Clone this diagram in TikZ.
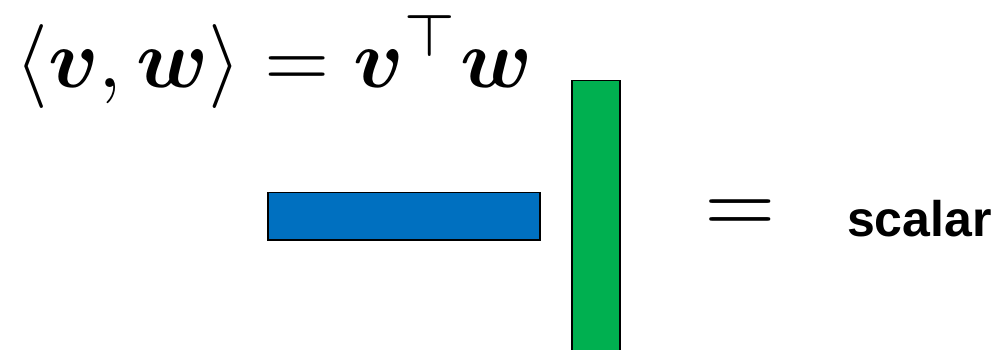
\documentclass[tikz,border=0pt]{standalone}
\usepackage{amsmath,bm}
\usepackage{fontspec}
\newfontfamily\arialbold{Liberation Sans}
\definecolor{vblue}{HTML}{0070C0}
\definecolor{vgreen}{HTML}{00B050}
\begin{document}
\begin{tikzpicture}[x=1pt,y=1pt,
  bar/.style={draw=black,line width=1.6pt},
  txt/.style={inner sep=0pt,outer sep=0pt}]
\useasboundingbox (0,0) rectangle (1006,-349);
\node[txt,anchor=base west,scale=8.4] (formula) at (15.5,-87)
  {$\langle \bm{v}, \bm{w}\rangle = \bm{v}^{\top}\bm{w}$};
\draw[bar,fill=vblue] (268,-192.5) rectangle (540,-240) node[midway,txt] (row) {};
\draw[bar,fill=vgreen] (572,-80.5) rectangle (620,-360) node[midway,txt] (col) {};
\node[txt,scale=9.2] (eq) at (740.5,-216.7) {$=$};
\node[txt,anchor=base west] (scalar) at (847,-236.7) {\fontsize{50}{50}\selectfont\arialbold\bfseries scalar};
\end{tikzpicture}
\end{document}
